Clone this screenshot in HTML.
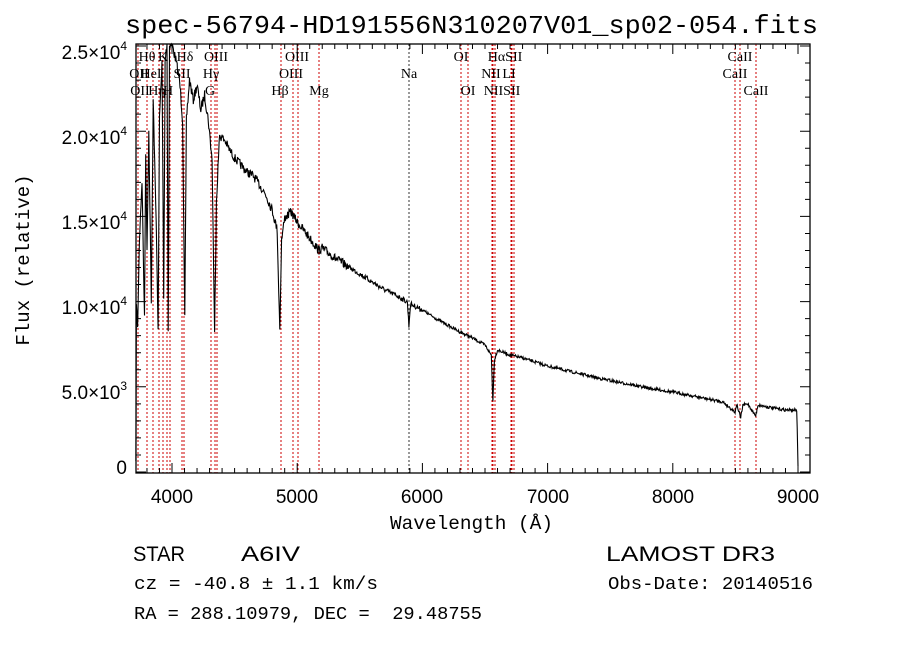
<!DOCTYPE html>
<html><head><meta charset="utf-8"><style>
body{margin:0;background:#fff;}
svg{display:block;}
text{fill:#000;white-space:pre;}
</style></head><body>
<svg id="s" width="900" height="649" xmlns="http://www.w3.org/2000/svg">
<rect width="900" height="649" fill="#fff"/>
<text x="125" y="33" font-family="Liberation Mono, monospace" font-size="26" textLength="693" lengthAdjust="spacingAndGlyphs">spec-56794-HD191556N310207V01_sp02-054.fits</text>
<g id="lines"></g>
<g id="ticks" stroke="#000" stroke-width="1"></g>
<path id="spec" fill="none" stroke="#000" stroke-width="1.1"/>
<rect x="136" y="44" width="674" height="429" fill="none" stroke="#000" stroke-width="1.3"/>
<g font-family="Liberation Serif, DejaVu Serif, serif" font-size="14" text-anchor="middle">
<text x="147" y="61">Hθ</text><text x="163" y="61">K</text><text x="185" y="61">Hδ</text><text x="216" y="61">OIII</text><text x="297" y="61">OIII</text><text x="461" y="61">OI</text><text x="505" y="61">HαSII</text><text x="740" y="61">CaII</text>
<text x="139" y="78">OII</text><text x="151" y="78">HeI</text><text x="182" y="78">SII</text><text x="211" y="78">Hγ</text><text x="291" y="78">OIII</text><text x="409" y="78">Na</text><text x="491" y="78">NII</text><text x="509" y="78">LI</text><text x="735" y="78">CaII</text>
<text x="140" y="95">OII</text><text x="157" y="95">Hη</text><text x="168" y="95">H</text><text x="210" y="95">G</text><text x="280" y="95">Hβ</text><text x="319" y="95">Mg</text><text x="468" y="95">OI</text><text x="502" y="95">NIISII</text><text x="756" y="95">CaII</text>
</g>
<g font-family="Liberation Sans, sans-serif" font-size="19" text-anchor="end">
<text x="127" y="59">2.5×10<tspan font-size="12" dy="-9">4</tspan></text>
<text x="127" y="144">2.0×10<tspan font-size="12" dy="-9">4</tspan></text>
<text x="127" y="229">1.5×10<tspan font-size="12" dy="-9">4</tspan></text>
<text x="127" y="314">1.0×10<tspan font-size="12" dy="-9">4</tspan></text>
<text x="127" y="399">5.0×10<tspan font-size="12" dy="-9">3</tspan></text>
<text x="127" y="474">0</text>
</g>
<g font-family="Liberation Sans, sans-serif" font-size="19" text-anchor="middle">
<text x="172" y="503">4000</text><text x="297" y="503">5000</text><text x="422" y="503">6000</text><text x="548" y="503">7000</text><text x="673" y="503">8000</text><text x="798" y="503">9000</text>
</g>
<text x="390" y="529" font-family="Liberation Mono, monospace" font-size="19" textLength="163" lengthAdjust="spacingAndGlyphs">Wavelength (Å)</text>
<text transform="translate(29,260) rotate(-90)" font-family="Liberation Mono, monospace" font-size="19" text-anchor="middle">Flux (relative)</text>
<g font-family="Liberation Sans, sans-serif" font-size="21">
<text x="133" y="561" textLength="52" lengthAdjust="spacingAndGlyphs">STAR</text><text x="241" y="561" textLength="59" lengthAdjust="spacingAndGlyphs">A6IV</text><text x="606" y="561" textLength="169" lengthAdjust="spacingAndGlyphs">LAMOST DR3</text>
</g>
<g font-family="Liberation Mono, monospace" font-size="18">
<text x="134" y="589" textLength="244" lengthAdjust="spacingAndGlyphs">cz = -40.8 ± 1.1 km/s</text>
<text x="608" y="589" textLength="205" lengthAdjust="spacingAndGlyphs">Obs-Date: 20140516</text>
<text x="134" y="619" textLength="348" lengthAdjust="spacingAndGlyphs">RA = 288.10979, DEC =  29.48755</text>
</g>
</svg>
<script>
var X=function(l){return 172+(l-4000)*0.1252;};
var ns="http://www.w3.org/2000/svg";
var lx=[138,147,153,159,163,167,170,182,184,211,215,217,281,293,298,319,409,461,468,492,493,495,511,512,514,735,740,756];
var g=document.getElementById('lines');
lx.forEach(function(x){var l=document.createElementNS(ns,'line');l.setAttribute('x1',x);l.setAttribute('x2',x);l.setAttribute('y1',44);l.setAttribute('y2',473);l.setAttribute('stroke',x==409?'#333':'#c00');l.setAttribute('stroke-width',1);l.setAttribute('stroke-dasharray','2,2');g.appendChild(l);});
var t=document.getElementById('ticks'),d='';
for(var l=3800;l<=9000;l+=100){var x=X(l),len=(l%1000==0)?10:5;d+='M'+x+' 473v-'+len+'M'+x+' 44v'+len;}
for(var f=0;f<=25000;f+=1000){var y=472-f*0.01704,len=(f%5000==0)?10:5;d+='M136 '+y+'h'+len+'M810 '+y+'h-'+len;}
var p=document.createElementNS(ns,'path');p.setAttribute('d',d);p.setAttribute('fill','none');p.setAttribute('stroke','#000');t.appendChild(p);
var c=[[3712,466],[3716,300],[3725,330],[3740,240],[3760,180],[3780,320],[3790,150],[3800,250],[3815,130],[3835,300],[3850,100],[3870,200],[3889,330],[3900,120],[3920,60],[3934,300],[3945,60],[3960,44],[3970,330],[3980,44],[4000,44],[4030,60],[4060,80],[4085,120],[4102,320],[4115,120],[4140,80],[4170,100],[4200,85],[4230,110],[4260,95],[4290,120],[4320,160],[4340,335],[4355,200],[4380,135],[4420,140],[4460,150],[4500,158],[4550,165],[4600,172],[4650,176],[4700,185],[4750,195],[4800,210],[4840,230],[4861,330],[4875,240],[4900,218],[4950,212],[5000,222],[5050,230],[5100,238],[5170,250],[5200,248],[5300,258],[5400,266],[5500,274],[5600,282],[5700,290],[5800,296],[5880,302],[5892,326],[5905,304],[6000,310],[6100,318],[6200,325],[6300,332],[6400,338],[6500,345],[6550,355],[6563,400],[6575,360],[6600,350],[6700,355],[6800,358],[6900,362],[7000,366],[7200,372],[7400,378],[7600,383],[7800,388],[8000,392],[8200,397],[8400,402],[8498,412],[8510,404],[8542,418],[8560,405],[8600,404],[8662,416],[8680,405],[8800,408],[8900,410],[8990,410],[9000,466]];
var pts=[],seed=7;function rnd(){seed=(seed*16807)%2147483647;return seed/2147483647-0.5;}
for(var i=0;i<c.length-1;i++){var a=c[i],b=c[i+1],n=Math.max(1,Math.round((b[0]-a[0])/4));
for(var k=0;k<n;k++){var l=a[0]+(b[0]-a[0])*k/n,y=a[1]+(b[1]-a[1])*k/n;var amp=l<4400?10:(l<5400?9:(l<6000?5:3));pts.push([X(l),Math.max(44,y+rnd()*amp)]);}}
pts.push([X(9000),466]);
document.getElementById('spec').setAttribute('d','M'+pts.map(function(q){return q[0].toFixed(1)+' '+q[1].toFixed(1);}).join('L'));
</script>
</body></html>
